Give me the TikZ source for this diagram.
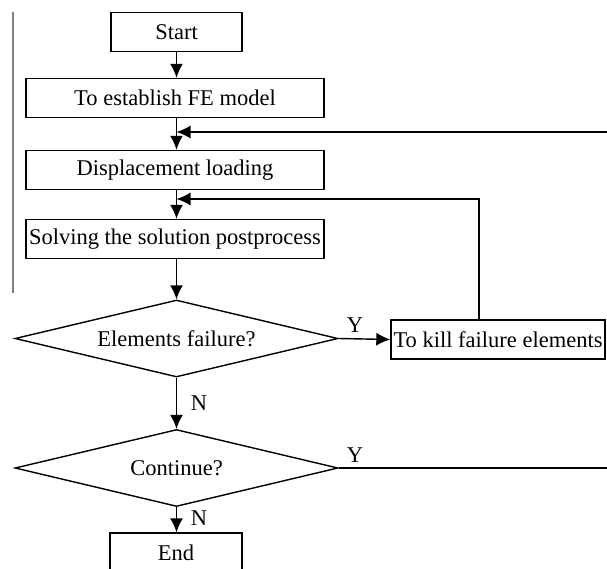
\documentclass[tikz,border=0pt]{standalone}
\usepackage{fontspec}
\setmainfont{Liberation Serif}
\usetikzlibrary{shapes.geometric,arrows.meta}
\begin{document}
\begin{tikzpicture}[x=1pt,y=-1pt,
  every node/.style={font=\fontsize{22.5}{26}\selectfont},
  box/.style={draw, line width=1.4pt, rectangle, inner sep=0pt, minimum height=39pt},
  dec/.style={draw, line width=1.4pt, diamond, aspect=4.2, inner sep=0pt, minimum width=323pt, minimum height=77pt},
  line/.style={line width=1.4pt},
  arr/.style={line, -{Latex[length=14pt,width=13pt]}},
  lab/.style={inner sep=0pt}]
\useasboundingbox (0,0) rectangle (607,568);
\clip (0,0) rectangle (607,568);
\node[box, minimum width=131pt] (start) at (176.5,32) {Start};
\node[box, minimum width=298pt] (fe) at (175,98) {To establish FE model};
\node[box, minimum width=298pt] (disp) at (175,170) {Displacement loading};
\node[box, minimum width=298pt] (solve) at (175,239) {Solving the solution postprocess};
\node[dec] (d1) at (176.5,338.5) {Elements failure?};
\node[box, minimum width=214pt] (kill) at (498,339.5) {To kill failure elements};
\node[dec] (d2) at (176.5,468) {Continue?};
\node[box, minimum width=132pt] (end) at (176,552.5) {End};
\coordinate (r1) at (607,132);
\coordinate (j1) at (d1.north |- r1);
\coordinate (r2) at (d2.east -| r1);
\coordinate (j2) at (176.5,199);
\coordinate (g1) at (13,12);
\coordinate (g2) at (13,293);
\draw[arr] (start.south -| d1.north) -- (fe.north -| d1.north);
\draw[arr] (fe.south -| d1.north) -- (disp.north -| d1.north);
\draw[arr] (disp.south -| d1.north) -- (solve.north -| d1.north);
\draw[arr] (solve.south -| d1.north) -- (d1.north);
\draw[arr] (d1.south) -- (d2.north);
\draw[arr] (d2.south) -- (end.north -| d2.south);
\draw[arr] (d1.east) -- (kill.west);
\draw[arr] ([xshift=-19pt]kill.north) |- (j2);
\draw[arr] (r1) -- (j1);
\draw[line] (d2.east) -- (r2);
\draw[gray, line width=1.6pt] (g1) -- (g2);
\node[lab] (y1) at (355,325) {Y};
\node[lab] (y2) at (355,455) {Y};
\node[lab] (n1) at (199,403) {N};
\node[lab] (n2) at (199,518) {N};
\end{tikzpicture}
\end{document}
